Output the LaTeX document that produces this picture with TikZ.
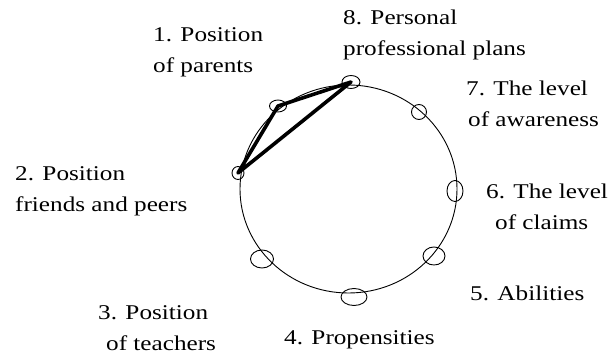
\documentclass[tikz,border=0pt]{standalone}
\usepackage{fontspec}
\setmainfont{Liberation Serif}[FakeStretch=1.2]
\usetikzlibrary{shapes.geometric}
\begin{document}
\begin{tikzpicture}[x=1pt,y=-1pt,
  marker/.style={draw,ellipse,line width=0.9pt,inner sep=0pt},
  lbl/.style={font=\fontsize{21}{31}\selectfont,inner sep=0pt,align=left,anchor=west},
  link/.style={line width=3.6pt,line join=round,line cap=round}]
\useasboundingbox[fill=white] (0,0) rectangle (614,358);
\draw[line width=0.9pt] (348.5,189) ellipse [x radius=108.5pt, y radius=104pt];
% markers on the circle
\node[marker,minimum width=18pt,minimum height=13pt] (m8) at (351,82) {};
\node[marker,minimum width=17pt,minimum height=12pt] (m1) at (278,106) {};
\node[marker,minimum width=12pt,minimum height=13pt] (m2) at (238,173) {};
\node[marker,minimum width=23pt,minimum height=18pt] (m3) at (262,259) {};
\node[marker,minimum width=26pt,minimum height=17pt] (m4) at (354,297) {};
\node[marker,minimum width=22pt,minimum height=18pt] (m5) at (434,256) {};
\node[marker,minimum width=16pt,minimum height=21pt] (m6) at (455,191) {};
\node[marker,minimum width=15pt,minimum height=15pt] (m7) at (419,112) {};
% thick links
\draw[link] (m2.center) -- (m1.center) -- (m8.center) -- cycle;
% labels
\node[lbl] (l1) at (153,52) {1. Position\\of parents};
\node[lbl] (l8) at (343,35) {8. Personal\\professional plans};
\node[lbl] (l7) at (466,104) {7. The level\\\hspace*{2pt}of awareness};
\node[lbl] (l6) at (486,207) {6. The level\\\hspace*{9pt}of claims};
\node[lbl] (l5) at (470,293) {5. Abilities};
\node[lbl] (l2) at (15,191) {2. Position\\friends and peers};
\node[lbl] (l3) at (98,328) {3. Position\\\hspace*{8pt}of teachers};
\node[lbl] (l4) at (284,340) {4. Propensities};
\end{tikzpicture}
\end{document}
